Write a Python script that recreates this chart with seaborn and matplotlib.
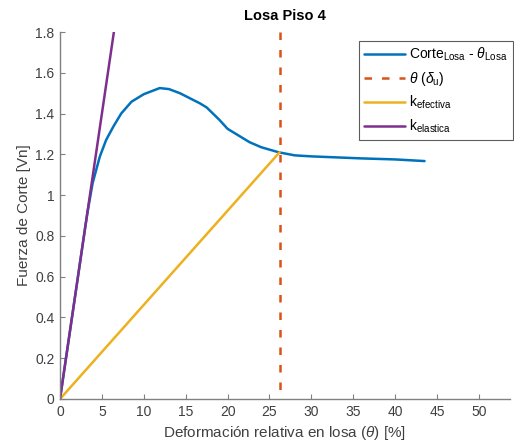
import matplotlib
matplotlib.use("Agg")
import matplotlib.pyplot as plt
import seaborn as sns
import pandas as pd

# Data
theta = [0, 1, 2, 3, 3.3, 3.9, 4.76, 5.5, 6.35, 7.3, 8.53, 10, 11.9, 13, 14.3, 15.5,
         16.7, 17.5, 19, 20, 21, 22.6, 24, 26.1, 28, 30, 33, 36, 40, 43.5]
corte = [0, 0.28, 0.56, 0.84, 0.92, 1.06, 1.19, 1.27, 1.335, 1.40, 1.458, 1.495,
         1.525, 1.52, 1.50, 1.475, 1.45, 1.43, 1.37, 1.325, 1.30, 1.26, 1.235, 1.21,
         1.195, 1.19, 1.185, 1.18, 1.175, 1.167]
k_eff_x = [0, 26.2]
k_eff_y = [0, 1.21]
k_ela_x = [0, 6.43]
k_ela_y = [0, 1.8]
theta_u = 26.2

title = "Losa Piso 4"
xlabel = r"Deformación relativa en losa ($\theta$) [%]"
ylabel = "Fuerza de Corte [Vn]"
labels = [r"Corte$_{\mathrm{Losa}}$ - $\theta_{\mathrm{Losa}}$",
          r"$\theta$ ($\delta_{\mathrm{u}}$)",
          r"k$_{\mathrm{efectiva}}$",
          r"k$_{\mathrm{elastica}}$"]
xticks = list(range(0, 55, 5))
yticks = [0, 0.2, 0.4, 0.6, 0.8, 1, 1.2, 1.4, 1.6, 1.8]
ytick_labels = ["0", "0.2", "0.4", "0.6", "0.8", "1", "1.2", "1.4", "1.6", "1.8"]

sns.set_style("white")
plt.rcParams['font.family'] = ['Liberation Sans', 'DejaVu Sans']
plt.rcParams['mathtext.fontset'] = 'custom'
plt.rcParams['mathtext.rm'] = 'Liberation Sans'
plt.rcParams['mathtext.it'] = 'Liberation Sans:italic'

blue = '#0072BD'
orange = '#D95319'
yellow = '#EDB120'
purple = '#7E2F8E'
gray = '#808080'

fig = plt.figure(figsize=(5.14, 4.46), dpi=100)
ax = fig.add_axes([60/514, 1 - 399/446, 450/514, 367/446])

df_c = pd.DataFrame({'x': theta, 'y': corte})
df_e = pd.DataFrame({'x': k_eff_x, 'y': k_eff_y})
df_k = pd.DataFrame({'x': k_ela_x, 'y': k_ela_y})

lw = 1.8
sns.lineplot(data=df_c, x='x', y='y', ax=ax, color=blue, lw=lw, label=labels[0], sort=False)
ax.axvline(theta_u, ymin=1, ymax=0, color=orange, lw=lw, dashes=(3.0, 4.0), label=labels[1])
sns.lineplot(data=df_e, x='x', y='y', ax=ax, color=yellow, lw=lw, label=labels[2])
sns.lineplot(data=df_k, x='x', y='y', ax=ax, color=purple, lw=lw, label=labels[3])

ax.set_xlim(0, 53.7)
ax.set_ylim(0, 1.8)
ax.set_xticks(xticks)
ax.set_yticks(yticks)
ax.set_yticklabels(ytick_labels)
for s in ['top', 'right']:
    ax.spines[s].set_visible(False)
for s in ['left', 'bottom']:
    ax.spines[s].set_color(gray)
    ax.spines[s].set_linewidth(1.0)
ax.tick_params(bottom=True, left=True, direction='in', length=3.5, width=0.8,
               color=gray, labelcolor='#404040', labelsize=10, pad=4)
ax.set_xlabel(xlabel, fontsize=11, color='#404040', labelpad=4)
ax.set_ylabel(ylabel, fontsize=11, color='#404040', labelpad=3)
ax.set_title(title, fontsize=10.5, fontweight='bold', color='black', pad=9)

leg = ax.legend(loc='upper right', bbox_to_anchor=(1.006, 0.975), fontsize=10,
                frameon=True, fancybox=False, handlelength=3.0, handletextpad=0.3,
                labelspacing=0.45, borderpad=0.35, borderaxespad=0)
leg.get_frame().set_edgecolor('#333333')
leg.get_frame().set_linewidth(0.8)
for t in leg.get_texts():
    t.set_color('black')

fig.savefig('out.png', dpi=100)
